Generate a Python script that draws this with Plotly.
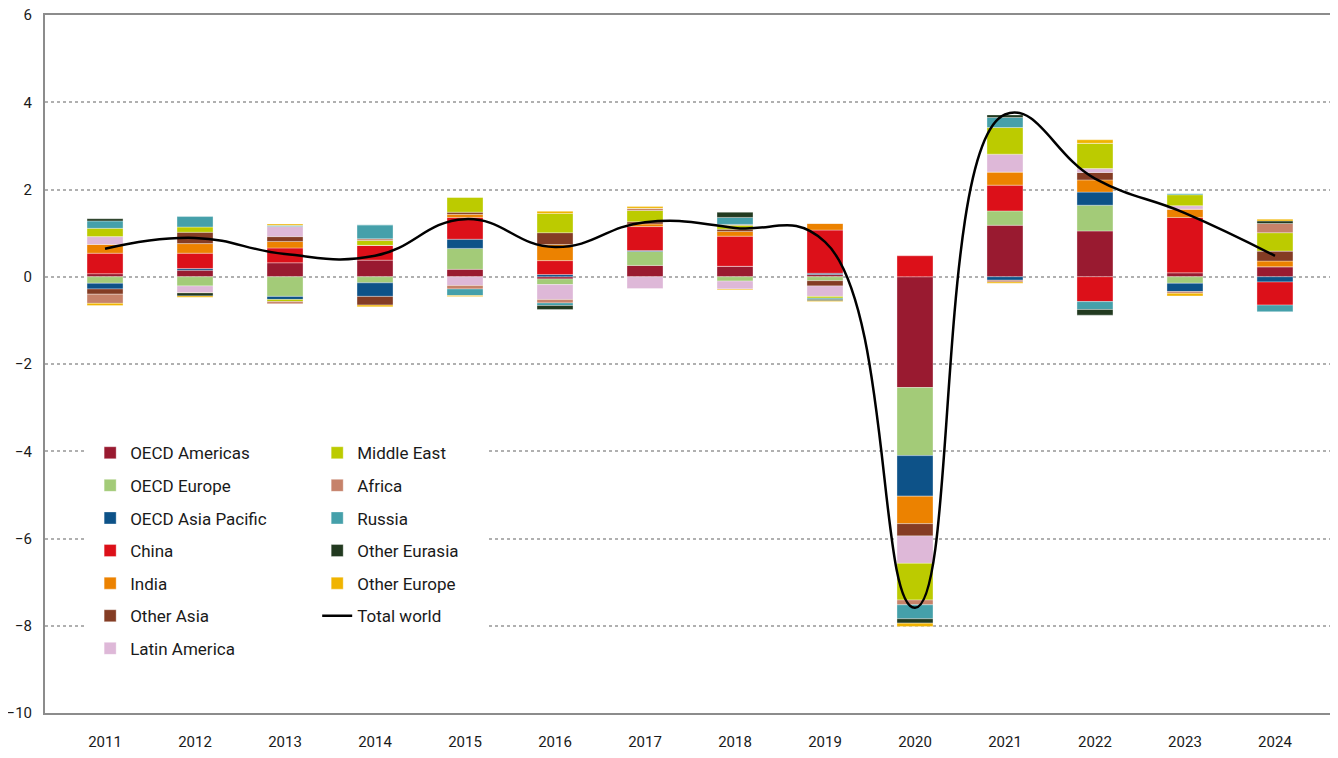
import plotly.graph_objects as go

years = ["2011", "2012", "2013", "2014", "2015", "2016", "2017",
         "2018", "2019", "2020", "2021", "2022", "2023", "2024"]

oecd_americas = [0.07, 0.15, 0.32, 0.38, 0.17, -0.05, 0.26, 0.24, 0.05, -2.54, 1.18, 1.05, 0.09, 0.23]
oecd_europe = [-0.15, -0.21, -0.45, -0.14, 0.48, -0.13, 0.32, -0.10, -0.09, -1.56, 0.33, 0.59, -0.15, 0.0]
oecd_asia_pacific = [-0.13, 0.04, -0.07, -0.31, 0.21, 0.05, 0.02, 0.0, 0.03, -0.93, -0.08, 0.30, -0.19, -0.12]
china = [0.47, 0.35, 0.34, 0.34, 0.50, 0.32, 0.55, 0.69, 0.99, 0.48, 0.59, -0.57, 1.27, -0.53]
india = [0.20, 0.22, 0.15, 0.0, 0.07, 0.37, 0.06, 0.11, 0.15, -0.63, 0.30, 0.28, 0.19, 0.13]
other_asia = [-0.12, 0.26, 0.11, -0.20, 0.05, 0.27, 0.05, 0.05, -0.12, -0.28, 0.0, 0.17, 0.0, 0.23]
latin_america = [0.18, -0.15, 0.23, 0.0, -0.20, -0.34, -0.27, -0.18, -0.24, -0.63, 0.41, 0.09, 0.08, 0.0]
middle_east = [0.19, 0.12, -0.05, 0.11, 0.34, 0.44, 0.26, 0.09, -0.04, -0.84, 0.61, 0.58, 0.25, 0.42]
africa = [-0.21, -0.01, -0.05, 0.04, -0.08, -0.08, 0.05, 0.02, 0.0, -0.11, -0.04, 0.0, -0.04, 0.21]
russia = [0.17, 0.24, 0.03, 0.32, -0.15, -0.06, 0.0, 0.16, -0.03, -0.32, 0.23, -0.18, 0.03, -0.15]
other_eurasia = [0.05, -0.07, 0.0, 0.0, 0.0, -0.09, 0.0, 0.12, -0.03, -0.10, 0.06, -0.13, 0.0, 0.06]
other_europe = [-0.05, -0.03, 0.03, -0.04, -0.02, 0.05, 0.04, -0.02, -0.02, -0.08, -0.03, 0.08, -0.06, 0.04]
total_world = [0.64, 0.89, 0.52, 0.48, 1.32, 0.68, 1.25, 1.12, 0.80, -7.59, 3.72, 2.25, 1.46, 0.48]

series = [
    ("OECD Americas", oecd_americas, "#991a30", "legend"),
    ("OECD Europe", oecd_europe, "#a3cb78", "legend"),
    ("OECD Asia Pacific", oecd_asia_pacific, "#0d5288", "legend"),
    ("China", china, "#dc1019", "legend"),
    ("India", india, "#ec8200", "legend"),
    ("Other Asia", other_asia, "#843c24", "legend"),
    ("Latin America", latin_america, "#deb8d8", "legend"),
    ("Middle East", middle_east, "#bccb00", "legend2"),
    ("Africa", africa, "#c6826a", "legend2"),
    ("Russia", russia, "#45a0aa", "legend2"),
    ("Other Eurasia", other_eurasia, "#223a20", "legend2"),
    ("Other Europe", other_europe, "#f0b400", "legend2"),
]

fig = go.Figure()
for name, vals, color, leg in series:
    fig.add_trace(go.Bar(
        x=years, y=vals, name=name, legend=leg, legendgroup=name,
        marker=dict(color=color, line=dict(color="rgba(255,255,255,0.55)", width=0.6)),
        width=0.4,
    ))

fig.add_trace(go.Scatter(
    x=years, y=total_world, name="Total world", legend="legend2", legendgroup="Total world",
    mode="lines", line=dict(color="#000000", width=2.5, shape="spline", smoothing=1.3),
))

legend_common = dict(
    font=dict(family="Roboto", size=17, color="#1a1a1a"),
    bgcolor="rgba(255,255,255,0)",
    traceorder="grouped",
    tracegroupgap=7.5,
    xanchor="left", yanchor="top",
    itemclick=False, itemdoubleclick=False,
)

fig.update_layout(
    width=1330, height=750,
    margin=dict(l=37, r=3, t=7, b=45, autoexpand=False),
    paper_bgcolor="white", plot_bgcolor="white",
    barmode="relative",
    font=dict(family="Roboto", size=15, color="#1a1a1a"),
    showlegend=True,
    legend=dict(x=0.035, y=0.398, **legend_common),
    legend2=dict(x=0.211, y=0.398, **legend_common),
    shapes=[dict(type="rect", xref="paper", yref="y", x0=0.032, x1=0.342, y0=-3.5, y1=-8.85,
                 fillcolor="white", line=dict(width=0), layer="above")],
)

fig.update_xaxes(
    type="category", range=[-0.667, 13.667],
    showline=True, linecolor="#8c8c8c", linewidth=2, mirror=True,
    showgrid=False, ticks="", ticklabelstandoff=14, automargin=False,
    tickfont=dict(family="Roboto", size=15, color="#1a1a1a"),
)
fig.update_yaxes(
    range=[-10, 6], tickvals=[-10, -8, -6, -4, -2, 0, 2, 4, 6],
    showline=True, linecolor="#8c8c8c", linewidth=2, mirror=True,
    showgrid=True, gridcolor="#b0b0b0", griddash="dot", gridwidth=1.5,
    zeroline=False, ticks="", ticklabelstandoff=8, ticklabeloverflow="allow",
    automargin=False,
    tickfont=dict(family="Roboto", size=15, color="#1a1a1a"),
)

fig.write_html("out.html")
